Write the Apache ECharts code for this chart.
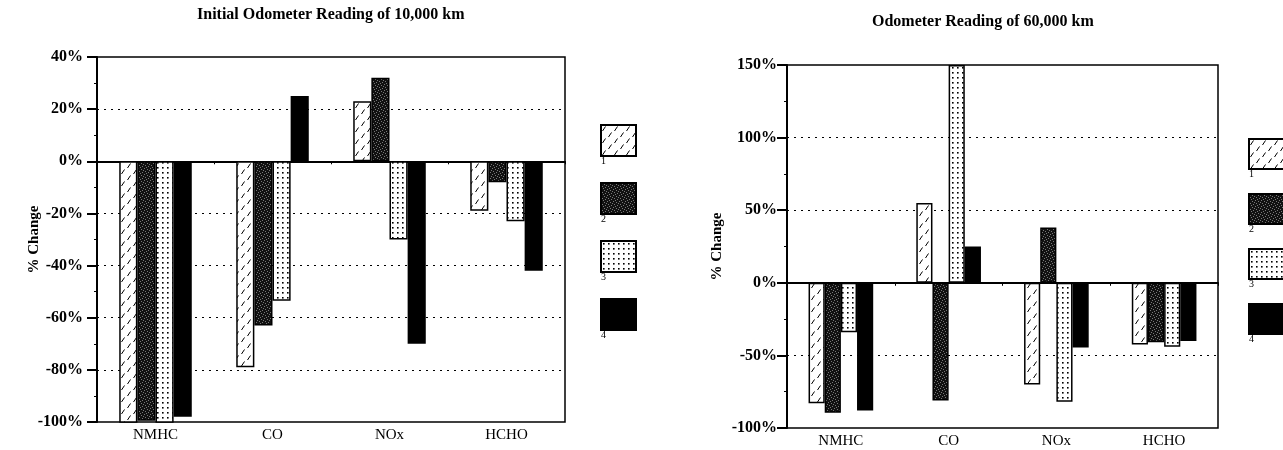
<!DOCTYPE html>
<html>
<head>
<meta charset="utf-8">
<script src="https://cdn.jsdelivr.net/npm/echarts@6/dist/echarts.min.js"></script>
<style>
html,body{margin:0;padding:0;background:#fff;}
#chart{width:1283px;height:450px;}
</style>
</head>
<body>
<div id="chart"></div>
<script>
// ---- data ----
const categories = ['NMHC', 'CO', 'NOx', 'HCHO'];
const seriesNames = ['1', '2', '3', '4'];
const titleLeft = 'Initial Odometer Reading of 10,000 km';
const titleRight = 'Odometer Reading of 60,000 km';
const axisName = '% Change';
// 10,000 km (% change)
const left1 = [-101, -79, 23, -19];
const left2 = [-99.5, -63, 32, -8];
const left3 = [-101, -53.5, -30, -23];
const left4 = [-98, 25, -70, -42];
// 60,000 km (% change)
const right1 = [-83, 55, -70, -42.5];
const right2 = [-89.5, -81, 38, -41];
const right3 = [-34, 150, -82, -44];
const right4 = [-88, 25, -44.5, -40];
const leftAxis = { min: -100, max: 40, interval: 20 };
const rightAxis = { min: -100, max: 150, interval: 50 };

// ---- fill patterns ----
function makeCanvas(w, h, draw) {
  const c = document.createElement('canvas');
  c.width = w; c.height = h;
  const ctx = c.getContext('2d');
  draw(ctx, w, h);
  return c;
}
const hatch = makeCanvas(12, 12, (ctx) => {
  ctx.fillStyle = '#fff'; ctx.fillRect(0, 0, 12, 12);
  ctx.strokeStyle = '#000'; ctx.lineWidth = 1;
  ctx.beginPath();
  ctx.moveTo(1.5, 6); ctx.lineTo(4.5, 1.5);
  ctx.moveTo(7.5, 12); ctx.lineTo(10.5, 7.5);
  ctx.stroke();
});
const speckle = makeCanvas(6, 6, (ctx) => {
  ctx.fillStyle = '#111'; ctx.fillRect(0, 0, 6, 6);
  ctx.fillStyle = '#777';
  [[0,0],[3,1],[1,3],[4,4],[2,5],[5,2]].forEach(p => ctx.fillRect(p[0], p[1], 1, 1));
});
const dots = makeCanvas(5, 5, (ctx) => {
  ctx.fillStyle = '#fff'; ctx.fillRect(0, 0, 5, 5);
  ctx.fillStyle = '#000'; ctx.fillRect(2, 2, 1.6, 1.6);
});
const fills = [
  { image: hatch, repeat: 'repeat' },
  { image: speckle, repeat: 'repeat' },
  { image: dots, repeat: 'repeat' },
  '#000'
];

const serifFont = '"Liberation Serif", "DejaVu Serif", serif';

function makeSeries(idx, data, gi) {
  return {
    name: seriesNames[idx],
    type: 'bar',
    xAxisIndex: gi, yAxisIndex: gi,
    data: data,
    barGap: '0%',
    barCategoryGap: gi === 0 ? '38%' : '40%',
    itemStyle: { color: fills[idx], borderColor: '#000', borderWidth: 1.5 },
    emphasis: { disabled: true },
    animation: false
  };
}

function yAxis(gi, cfg, nameGap, margin) {
  return {
    type: 'value', gridIndex: gi,
    min: cfg.min, max: cfg.max, interval: cfg.interval,
    name: axisName, nameLocation: 'middle', nameRotate: 90, nameGap: nameGap,
    nameMoveOverlap: false,
    nameTextStyle: { fontFamily: serifFont, fontSize: 15, fontWeight: 'bold', color: '#000' },
    axisLine: { show: true, lineStyle: { color: '#000', width: 2 } },
    axisTick: { show: true, length: 10, lineStyle: { color: '#000', width: 2 } },
    minorTick: { show: true, splitNumber: 2, length: 3, lineStyle: { color: '#000', width: 1 } },
    axisLabel: { formatter: '{value}%', fontFamily: serifFont, fontSize: 16, fontWeight: 'bold', color: '#000', margin: margin },
    splitLine: { show: true, showMinLine: false, showMaxLine: false, lineStyle: { color: '#000', width: 1, type: [2, 5] } }
  };
}
function xAxis(gi) {
  return {
    type: 'category', gridIndex: gi, data: categories,
    axisLine: { show: true, lineStyle: { color: '#000', width: 2 } },
    axisTick: { show: true, length: 3, lineStyle: { color: '#000', width: 1 } },
    axisLabel: { fontFamily: serifFont, fontSize: 15, color: '#000', margin: 6 }
  };
}

const chart = echarts.init(document.getElementById('chart'), null, { renderer: 'canvas' });
const legendCommon = {
  orient: 'vertical', data: seriesNames, formatter: () => '', icon: 'rect', padding: 0,
  itemWidth: 35, itemHeight: 31, selectedMode: false,
  textStyle: { fontSize: 1 }
};
chart.setOption({
  animation: false,
  backgroundColor: '#fff',
  title: [
    { text: titleLeft, left: 197, top: 7, padding: 0, textStyle: { fontFamily: serifFont, fontSize: 16, fontWeight: 'bold', color: '#000' } },
    { text: titleRight, left: 872, top: 14, padding: 0, textStyle: { fontFamily: serifFont, fontSize: 16, fontWeight: 'bold', color: '#000' } }
  ],
  legend: [
    Object.assign({}, legendCommon, { left: 600, top: 124, itemGap: 25 }),
    Object.assign({}, legendCommon, { left: 1248, top: 138, itemGap: 23, itemHeight: 30 })
  ],
  grid: [
    { left: 97, top: 57, width: 468, height: 365, show: true, borderColor: '#000', borderWidth: 1.5, backgroundColor: 'transparent' },
    { left: 787, top: 65, width: 431, height: 363, show: true, borderColor: '#000', borderWidth: 1.5, backgroundColor: 'transparent' }
  ],
  xAxis: [xAxis(0), xAxis(1)],
  yAxis: [yAxis(0, leftAxis, 55, 14), yAxis(1, rightAxis, 62, 10)],
  series: [
    makeSeries(0, left1, 0), makeSeries(1, left2, 0), makeSeries(2, left3, 0), makeSeries(3, left4, 0),
    makeSeries(0, right1, 1), makeSeries(1, right2, 1), makeSeries(2, right3, 1), makeSeries(3, right4, 1)
  ],
  graphic: seriesNames.map((n, i) => ({
    type: 'text', left: 601, top: 156 + i * 58,
    style: { text: n, font: '10px "Liberation Serif", serif', fill: '#000' }
  })).concat(seriesNames.map((n, i) => ({
    type: 'text', left: 1249, top: 169 + i * 55,
    style: { text: n, font: '10px "Liberation Serif", serif', fill: '#000' }
  })))
});
</script>
</body>
</html>
